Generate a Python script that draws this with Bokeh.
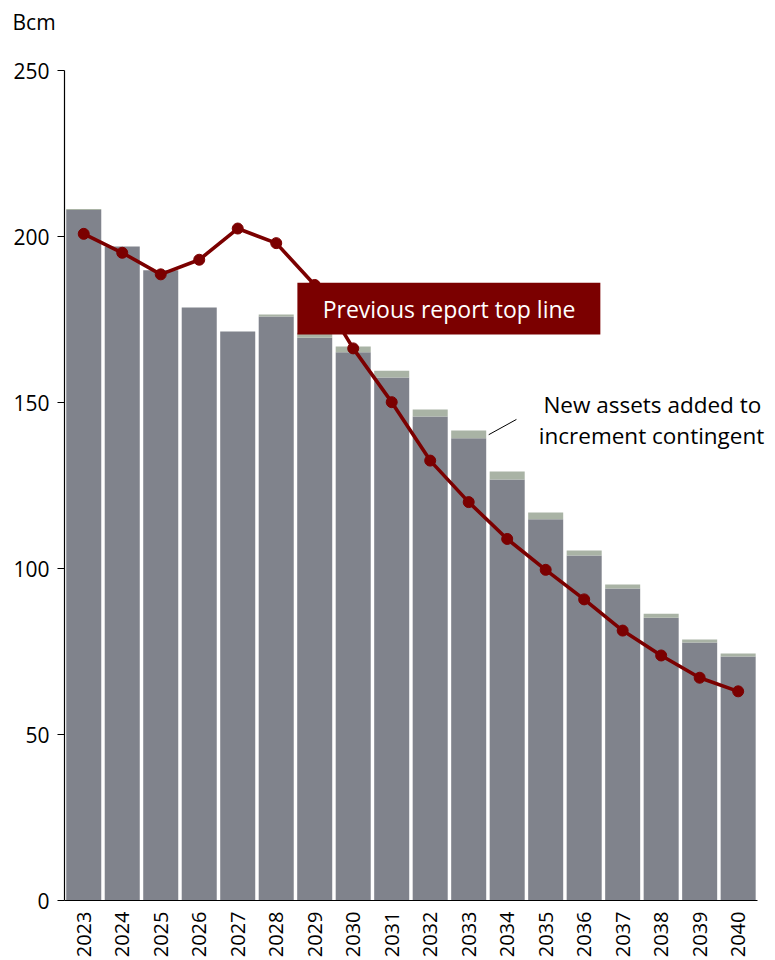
import math
from bokeh.plotting import figure
from bokeh.models import Range1d, ColumnDataSource, Label, BoxAnnotation, Arrow, Title
from bokeh.embed import file_html
from bokeh.resources import INLINE

years = [str(y) for y in range(2023, 2041)]
base = [208.0, 197.0, 189.8, 178.6, 171.4, 175.9, 169.5, 165.1, 157.5, 145.8,
        139.2, 126.8, 114.8, 103.9, 94.0, 85.2, 77.7, 73.5]
new_assets = [0.3, 0.0, 0.0, 0.0, 0.0, 0.6, 1.5, 1.8, 2.1, 2.1,
              2.4, 2.4, 2.1, 1.5, 1.2, 1.2, 0.9, 0.9]
previous_top = [200.8, 195.1, 188.6, 193.0, 202.4, 198.0, 185.4, 166.3, 150.1, 132.5,
                120.0, 108.9, 99.6, 90.7, 81.3, 73.8, 67.1, 63.0]
y_ticks = [0, 50, 100, 150, 200, 250]

FONT = "Open Sans"
GRAY = "#80838c"
GREEN = "#a9b3a5"
RED = "#7b0000"

idx = list(range(len(years)))
src = ColumnDataSource(dict(idx=idx, years=years, base=base, new_assets=new_assets,
                            previous_top=previous_top))

p = figure(x_range=Range1d(-0.5, 17.97), y_range=Range1d(0, 250),
           width=775, height=960, output_backend="svg", toolbar_location=None,
           min_border_left=64, min_border_right=0, min_border_top=70, min_border_bottom=60)
p.outline_line_color = None
p.grid.visible = False
p.background_fill_color = "white"

# spacer panel (nearest the frame), then the unit label above it
p.add_layout(Title(text=" ", text_font_size="1px", standoff=23), "above")
p.add_layout(Title(text="Bcm", align="left", offset=-52, vertical_align="top", standoff=13,
                   text_font=FONT, text_font_size="21px", text_font_style="normal",
                   text_color="black"), "above")

p.vbar_stack(["base", "new_assets"], x="idx", width=0.91, color=[GRAY, GREEN],
             line_color=None, source=src)
p.line(x="idx", y="previous_top", source=src, line_color=RED, line_width=3.6)
p.scatter(x="idx", y="previous_top", source=src, size=11, fill_color=RED, line_color=RED)

# y axis
p.yaxis.ticker = y_ticks
p.yaxis.major_tick_out = 7
p.yaxis.major_tick_in = 0
p.yaxis.minor_tick_line_color = None
p.yaxis.axis_line_color = "black"
p.yaxis.axis_line_width = 1.2
p.yaxis.major_tick_line_width = 1.2
p.yaxis.major_label_text_font = FONT
p.yaxis.major_label_text_font_size = "21px"
p.yaxis.major_label_text_color = "black"
p.yaxis.major_label_standoff = 8

# x axis
p.xaxis.ticker = idx
p.xaxis.major_label_overrides = {i: y for i, y in zip(idx, years)}
p.xaxis.bounds = (-0.5, 17.5)
p.xaxis.major_tick_out = 0
p.xaxis.major_tick_in = 0
p.xaxis.minor_tick_line_color = None
p.xaxis.axis_line_color = "black"
p.xaxis.axis_line_width = 1.2
p.xaxis.major_label_orientation = math.pi / 2
p.xaxis.major_label_text_font = FONT
p.xaxis.major_label_text_font_size = "20px"
p.xaxis.major_label_text_color = "black"
p.xaxis.major_label_standoff = 11

# previous report box
p.add_layout(BoxAnnotation(left=5.55, right=13.42, bottom=170.5, top=186.1,
                           fill_color=RED, fill_alpha=1.0, line_color=None))
p.add_layout(Label(x=9.49, y=178.2, text="Previous report top line", text_font=FONT,
                   text_font_size="23px", text_color="white", text_align="center",
                   text_baseline="middle"))

# new assets annotation
p.add_layout(Label(x=14.77, y=149.4, text="New assets added to", text_font=FONT,
                   text_font_size="22.5px", text_color="black", text_align="center",
                   text_baseline="middle"))
p.add_layout(Label(x=14.75, y=140.0, text="increment contingent", text_font=FONT,
                   text_font_size="22.5px", text_color="black", text_align="center",
                   text_baseline="middle"))
p.add_layout(Arrow(x_start=10.52, y_start=140.3, x_end=11.24, y_end=144.9, end=None,
                   line_color="black", line_width=1))

open("out.html", "w").write(file_html(p, INLINE))
